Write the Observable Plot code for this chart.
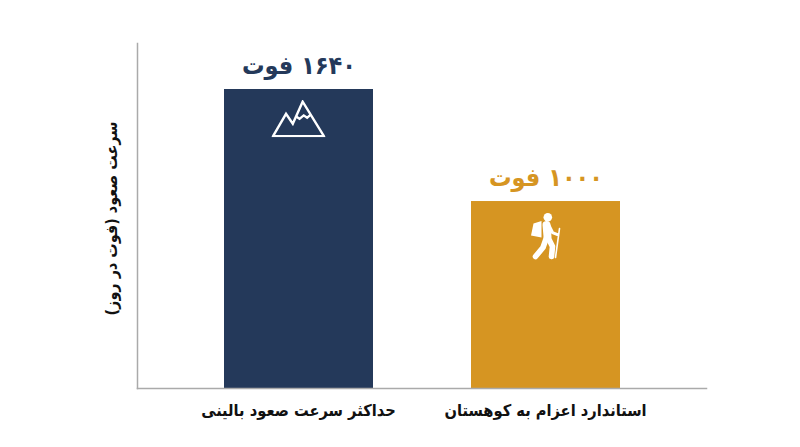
<!DOCTYPE html>
<html lang="fa">
<head>
<meta charset="utf-8">
<style>html,body{margin:0;padding:0;background:#fff;overflow:hidden}svg{display:block}svg text{direction:rtl;font-stretch:condensed}</style>
<script src="https://cdn.jsdelivr.net/npm/d3@7"></script>
<script src="https://cdn.jsdelivr.net/npm/@observablehq/plot@0.6"></script>
</head>
<body>
<div id="chart"></div>
<script>
const categories = ["حداکثر سرعت صعود بالینی", "استاندارد اعزام به کوهستان"];
const values = [1640, 1000];
const valueLabels = ["۱۶۴۰ فوت", "۱۰۰۰ فوت"];
const colors = ["#24395a", "#d69522"];
const yLabel = "سرعت صعود (فوت در روز)";
const FONT = "'DejaVu Sans', sans-serif";

const mountainSvg = `<svg xmlns="http://www.w3.org/2000/svg" viewBox="0 0 52 36"><g fill="none" stroke="#fff" stroke-width="2.3" stroke-linejoin="miter"><path d="M1.5 35 L14 13.5 L20.5 23 L30 1.8 L50.5 35 Z"/><path d="M23.7 16 L27 18.3 L31 15 L34.3 17.3 L38 14"/></g></svg>`;
const hikerSvg = `<svg xmlns="http://www.w3.org/2000/svg" viewBox="0 0 34 50"><g fill="#fff" stroke="none"><circle cx="19.3" cy="6.7" r="4.3"/><path d="M2.5 25 L5 13 L13 10.5 L13 27 Z"/></g><g fill="none" stroke="#fff" stroke-linecap="round" stroke-linejoin="round"><path d="M18 14.5 L19 26" stroke-width="8"/><path d="M18 27 L14.5 37 L7 46" stroke-width="5.6"/><path d="M19.5 27 L24 36 L23 46" stroke-width="5.6"/><path d="M20 14 L24 22 L29 24" stroke-width="3"/><path d="M31 18 L27 47" stroke-width="1.6"/></g></svg>`;
const toUri = s => "data:image/svg+xml;charset=utf-8," + encodeURIComponent(s);
const icons = [
  {width: 54, height: 37.4, src: toUri(mountainSvg), dy: 29},
  {width: 34, height: 50, src: toUri(hikerSvg), dy: 34}
];

const chart = Plot.plot({
  width: 800, height: 447,
  marginTop: 43, marginBottom: 59, marginLeft: 137, marginRight: 94,
  style: {background: "#fff", fontFamily: FONT},
  x: {domain: categories, paddingInner: 0.3968, paddingOuter: 0.3502, round: false, label: null},
  // the reference's bars are not drawn strictly to scale; a slight power scale reproduces both heights
  y: {type: "pow", exponent: 0.949, domain: [0, 1640], range: [388, 89], axis: null},
  marks: [
    Plot.barY(categories, {x: d => d, y: (d, i) => values[i], fill: (d, i) => colors[i], dx: 0.5}),
    Plot.frame({anchor: "left", stroke: "#aaaaaa", strokeWidth: 1.5}),
    Plot.frame({anchor: "bottom", stroke: "#aaaaaa", strokeWidth: 1.5}),
    Plot.axisX({tickSize: 0, tickPadding: 16, label: null, fontSize: 16.3, fontWeight: "bold", fill: "#111", fontFamily: FONT}),
    Plot.text(categories, {x: d => d, y: (d, i) => values[i], text: (d, i) => valueLabels[i], fill: (d, i) => colors[i], dy: -24, dx: 0.5, fontSize: 25, fontWeight: "bold", fontFamily: FONT}),
    Plot.image([categories[0]], {x: d => d, y: () => values[0], src: icons[0].src, width: icons[0].width, height: icons[0].height, dy: icons[0].dy}),
    Plot.image([categories[1]], {x: d => d, y: () => values[1], src: icons[1].src, width: icons[1].width, height: icons[1].height, dy: icons[1].dy}),
    Plot.text([yLabel], {frameAnchor: "left", textAnchor: "middle", rotate: -90, dx: -26, dy: 2.5, text: d => d, fontSize: 16, fontWeight: "bold", fill: "#111", fontFamily: FONT})
  ]
});
document.getElementById("chart").append(chart);
</script>
</body>
</html>
